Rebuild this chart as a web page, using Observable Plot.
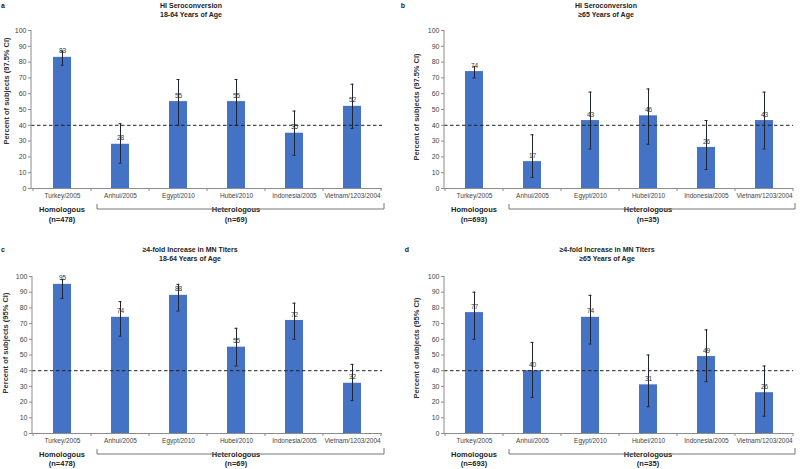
<!DOCTYPE html>
<html><head><meta charset="utf-8">
<script src="https://cdn.jsdelivr.net/npm/d3@7"></script>
<script src="https://cdn.jsdelivr.net/npm/@observablehq/plot@0.6"></script>
<style>
body{margin:0;background:#fff;}
#root{position:relative;width:800px;height:469px;overflow:hidden;background:#fff;}
.panel{position:absolute;}
.panel svg{display:block;overflow:visible;}
</style></head><body><div id="root"></div>
<script>
// ---------- data ----------
const categories = ["Turkey/2005","Anhui/2005","Egypt/2010","Hubei/2010","Indonesia/2005","Vietnam/1203/2004"];
const panelLetters = ["a","b","c","d"];
const titleLine1 = ["HI Seroconversion","HI Seroconversion","≥4-fold Increase in MN Titers","≥4-fold Increase in MN Titers"];
const titleLine2 = ["18-64 Years of Age","≥65 Years of Age","18-64 Years of Age","≥65 Years of Age"];
const yLabels = ["Percent of subjects (97.5% CI)","Percent of subjects (97.5% CI)","Percent of subjects (95% CI)","Percent of subjects (95% CI)"];
const groupNames = ["Homologous","Heterologous"];
const homologousN = [478, 693, 478, 693];
const heterologousN = [69, 35, 69, 35];
const yTicks = [0,10,20,30,40,50,60,70,80,90,100];
const threshold = 40;

const valuesA = [83, 28, 55, 55, 35, 52];
const lowerA  = [78, 16, 40, 40, 21, 38];
const upperA  = [87, 41, 69, 69, 49, 66];

const valuesB = [74, 17, 43, 46, 26, 43];
const lowerB  = [70,  7, 25, 28, 12, 25];
const upperB  = [77, 34, 61, 63, 43, 61];

const valuesC = [95, 74, 88, 55, 72, 32];
const lowerC  = [86, 62, 78, 43, 60, 21];
const upperC  = [98, 84, 95, 67, 83, 44];

const valuesD = [77, 40, 74, 31, 49, 26];
const lowerD  = [60, 23, 57, 17, 33, 11];
const upperD  = [90, 58, 88, 50, 66, 43];

const values = [valuesA, valuesB, valuesC, valuesD];
const lower = [lowerA, lowerB, lowerC, lowerD];
const upper = [upperA, upperB, upperC, upperD];

// ---------- style / layout ----------
const FONT = '"Liberation Sans", Arial, Helvetica, sans-serif';
const BAR = "#4472c4";
const ERR = "#1e2433";
const AXIS = "#8c8c8c";
const layouts = [
  {left:0,   top:0,   h:235, ml:31, mr:18, mt:30, mb:47, titleX:191, titleY:[6,15],  letter:[3,6],  ylx:6,  yly:91},
  {left:400, top:0,   h:235, ml:44, mr:7,  mt:30, mb:47, titleX:206, titleY:[6,15],  letter:[3,6],  ylx:16, yly:107},
  {left:0,   top:235, h:234, ml:32, mr:18, mt:41, mb:36, titleX:190, titleY:[15,24], letter:[3,15], ylx:5,  yly:108},
  {left:400, top:235, h:234, ml:44, mr:7,  mt:41, mb:36, titleX:207, titleY:[15,24], letter:[7,15], ylx:16, yly:113}
];

function drawPanel(k) {
  const L = layouts[k];
  const W = 400, H = L.h;
  const data = categories.map((c, i) => ({cat: c, v: values[k][i], lo: lower[k][i], hi: upper[k][i]}));
  const svg = Plot.plot({
    width: W, height: H,
    marginLeft: L.ml, marginRight: L.mr, marginTop: L.mt, marginBottom: L.mb,
    style: {fontFamily: FONT, background: "transparent", overflow: "visible", color: "#333"},
    x: {type: "band", domain: categories, paddingInner: 0.69, paddingOuter: 0.345, align: 0.5},
    y: {domain: [0, 100]},
    marks: [
      Plot.barY(data, {x: "cat", y: "v", fill: BAR}),
      Plot.ruleY([threshold], {stroke: "#222", strokeDasharray: "3.5,2.5", strokeWidth: 1}),
      Plot.ruleY([0], {stroke: AXIS, strokeWidth: 1}),
      Plot.ruleX(data, {x: "cat", y1: "lo", y2: "hi", stroke: ERR, strokeWidth: 1}),
      Plot.tickY(data, {x: "cat", y: "hi", stroke: ERR, strokeWidth: 1, insetLeft: 7.5, insetRight: 7.5}),
      Plot.tickY(data, {x: "cat", y: "lo", stroke: ERR, strokeWidth: 1, insetLeft: 7.5, insetRight: 7.5}),
      Plot.text(data, {x: "cat", y: "v", text: d => String(d.v), dy: -6, fontSize: 6.5, fill: "#333"}),
      Plot.axisX({tickSize: 0, tickPadding: 5, fontSize: 6.5, fill: "#444", label: null}),
      Plot.axisY({ticks: yTicks, tickSize: 3, tickPadding: 2, fontSize: 7, fill: "#444", stroke: AXIS, label: null})
    ]
  });

  const xs = svg.scale("x"), ys = svg.scale("y");
  const xf = xs.apply ? (c => xs.apply(c)) :
    d3.scaleBand(xs.domain, xs.range).paddingInner(xs.paddingInner).paddingOuter(xs.paddingOuter).align(xs.align ?? 0.5);
  const yf = ys.apply ? (v => ys.apply(v)) : d3.scaleLinear(ys.domain, ys.range);
  const bw = xs.bandwidth, st = xs.step;
  const cx = c => xf(c) + bw / 2;
  const left = L.ml, right = W - L.mr, bottom = yf(0);

  const g = d3.select(svg).append("g").attr("font-family", FONT);
  // y axis line
  g.append("line").attr("x1", left).attr("x2", left).attr("y1", yf(100)).attr("y2", bottom)
    .attr("stroke", AXIS).attr("stroke-width", 1);
  // category boundary ticks
  for (let i = 0; i <= categories.length; i++) {
    const xb = cx(categories[0]) - st / 2 + i * st;
    g.append("line").attr("x1", xb).attr("x2", xb).attr("y1", bottom).attr("y2", bottom + 3)
      .attr("stroke", AXIS).attr("stroke-width", 1);
  }
  // title
  [titleLine1[k], titleLine2[k]].forEach((t, j) => {
    g.append("text").attr("x", L.titleX).attr("y", L.titleY[j]).attr("dy", "0.35em")
      .attr("text-anchor", "middle").attr("font-size", 7).attr("font-weight", "bold")
      .attr("fill", "#222").text(t);
  });
  // panel letter
  g.append("text").attr("x", L.letter[0]).attr("y", L.letter[1]).attr("dy", "0.35em")
    .attr("font-size", 7).attr("font-weight", "bold").attr("fill", "#222").text(panelLetters[k]);
  // y label
  g.append("text").attr("transform", `translate(${L.ylx},${L.yly}) rotate(-90)`).attr("dy", "0.35em")
    .attr("text-anchor", "middle").attr("font-size", 7.5).attr("font-weight", "bold")
    .attr("fill", "#333").text(yLabels[k]);
  // group labels
  const gy1 = bottom + 21, gy2 = bottom + (k < 2 ? 31 : 30);
  const homX = cx(categories[0]);
  const hetStart = cx(categories[1]) - st / 2;
  const hetEnd = cx(categories[categories.length - 1]) + st / 2;
  const hetX = (hetStart + hetEnd) / 2;
  const lbl = (x, y, t, bold) => g.append("text").attr("x", x).attr("y", y).attr("dy", "0.35em")
    .attr("text-anchor", "middle").attr("font-size", 7.5).attr("font-weight", bold ? "bold" : "bold")
    .attr("fill", "#222").text(t);
  lbl(homX, gy1, groupNames[0], true);
  lbl(homX, gy2, `(n=${homologousN[k]})`, true);
  const het = lbl(hetX, gy1, groupNames[1], true);
  lbl(hetX, gy2, `(n=${heterologousN[k]})`, true);
  const hw = het.node().getComputedTextLength() / 2;
  const bx1 = hetStart + 6, bx2 = right + 2;
  const bc = "#777";
  g.append("path").attr("d", `M${bx1},${gy1 - 5}V${gy1}H${hetX - hw - 9}`)
    .attr("fill", "none").attr("stroke", bc).attr("stroke-width", 1);
  g.append("path").attr("d", `M${hetX + hw + 10},${gy1}H${bx2}V${gy1 - 6}`)
    .attr("fill", "none").attr("stroke", bc).attr("stroke-width", 1);

  const div = document.createElement("div");
  div.className = "panel";
  div.style.left = L.left + "px";
  div.style.top = L.top + "px";
  div.appendChild(svg);
  document.getElementById("root").appendChild(div);
}

for (let k = 0; k < 4; k++) drawPanel(k);
</script>
</body></html>
